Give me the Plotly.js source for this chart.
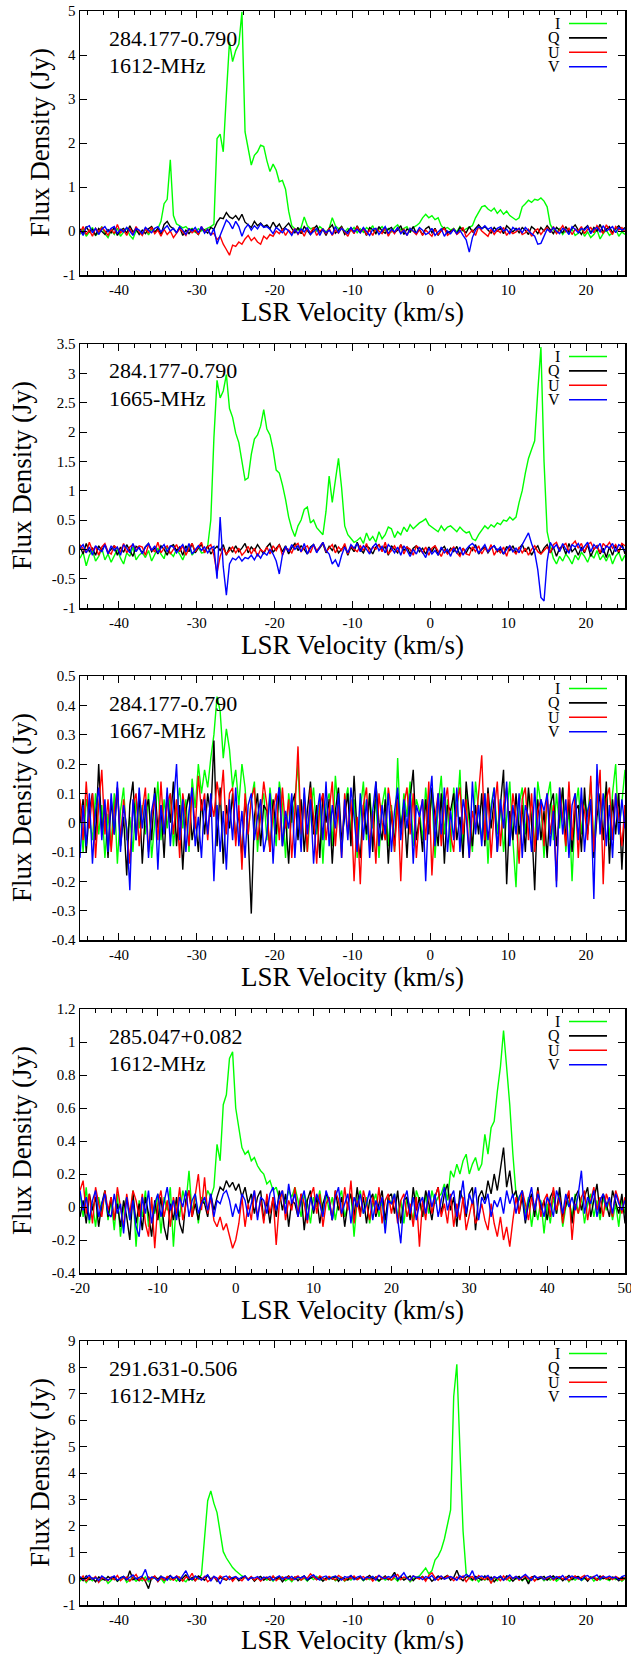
<!DOCTYPE html>
<html><head><meta charset="utf-8">
<script src="https://cdn.plot.ly/plotly-3.0.1.min.js"></script>
<style>html,body{margin:0;padding:0;background:#fff}#chart{width:631px;height:1654px}</style>
</head><body><div id="chart"></div>
<script>
// ---------------- DATA (Jy), channels spaced 0.4 km/s ----------------
// Panel 1: 284.177-0.790, 1612 MHz, velocities from -45 km/s
const P1_V0 = -45;
const I1 = [
-0.08,0.05,-0.12,-0.02,0.08,-0.1,-0.04,0.1,-0.06,-0.15,
0.02,-0.08,0.06,-0.12,-0.03,0.07,-0.1,-0.18,0.0,-0.05,
-0.06,0.04,-0.09,0.03,-0.02,0.05,0.22,0.62,0.72,1.62,
0.35,0.16,0.12,0.07,0.1,0.02,0.06,-0.03,0.05,0.0,
0.03,0.06,0.1,0.15,2.1,2.2,1.8,3.1,4.3,3.85,
4.1,4.25,4.98,2.25,1.85,1.5,1.72,1.8,1.95,1.92,
1.6,1.35,1.52,1.38,1.12,1.15,0.95,0.45,0.12,0.05,
0.02,0.08,0.32,0.12,0.05,0.08,0.0,0.1,0.04,-0.02,
0.06,0.3,0.12,0.05,0.1,-0.02,0.06,0.0,0.08,-0.04,
0.05,-0.03,0.08,0.02,0.12,-0.05,0.04,0.1,0.0,0.06,
-0.02,0.08,0.14,0.02,0.06,0.1,-0.04,0.08,0.12,0.18,
0.3,0.38,0.3,0.35,0.26,0.3,0.12,0.05,0.08,0.02,
0.06,-0.02,0.1,0.0,0.05,0.08,0.12,0.3,0.42,0.55,
0.58,0.5,0.45,0.52,0.4,0.48,0.38,0.45,0.35,0.3,
0.25,0.3,0.55,0.62,0.7,0.65,0.72,0.7,0.75,0.68,
0.55,0.15,0.02,-0.04,0.05,-0.08,0.02,-0.06,0.04,-0.1,
-0.05,0.06,-0.12,-0.02,-0.15,-0.08,0.03,-0.18,-0.06,0.02,
-0.1,-0.04,0.05,-0.12,-0.02,-0.08];
const Q1 = [
0.05,-0.06,0.1,-0.02,0.04,-0.1,0.06,0.0,-0.08,0.03,
-0.04,0.08,-0.1,0.02,0.06,-0.05,0.12,-0.02,0.04,-0.08,
0.02,-0.06,0.05,0.1,-0.03,0.06,-0.08,0.15,0.22,0.1,
0.05,-0.04,0.08,-0.1,0.02,-0.06,0.04,0.0,-0.08,0.06,
0.02,-0.05,0.08,0.04,0.2,0.3,0.28,0.42,0.32,0.28,
0.35,0.25,0.38,0.2,0.15,0.08,0.22,0.12,0.18,0.1,
0.14,0.05,0.2,0.08,0.16,0.02,0.1,0.18,0.06,-0.04,
0.08,-0.06,0.1,0.02,-0.08,0.05,0.12,-0.03,0.04,-0.1,
0.06,0.14,-0.05,0.02,0.1,-0.08,0.0,0.07,-0.04,0.12,
-0.02,0.06,-0.1,0.08,0.03,-0.06,0.1,0.0,-0.05,0.04,
0.08,-0.04,0.02,0.12,-0.08,0.05,-0.02,0.1,-0.06,0.03,
-0.08,0.05,0.1,-0.04,0.06,-0.1,0.02,0.08,-0.05,0.0,
0.04,-0.06,0.08,0.02,-0.04,0.1,-0.02,0.06,0.14,0.05,
0.1,0.02,-0.05,0.08,0.0,0.06,-0.06,0.12,0.04,-0.02,
0.06,-0.04,0.08,0.02,-0.08,0.1,0.04,-0.06,0.08,0.0,
0.12,0.04,-0.06,0.08,0.02,-0.04,0.1,-0.02,0.06,0.14,
0.02,-0.08,0.06,0.12,-0.04,0.08,0.0,0.15,-0.02,0.05,
0.1,-0.04,0.06,0.12,0.02,0.08];
const U1 = [
-0.05,0.1,-0.08,0.02,-0.12,0.06,-0.02,0.08,0.0,-0.1,
0.04,-0.06,0.15,-0.04,0.02,-0.1,0.06,-0.08,0.1,-0.02,
-0.1,0.05,-0.04,0.08,-0.06,0.02,-0.12,0.04,-0.08,0.0,
-0.15,-0.06,0.05,-0.02,-0.1,0.06,-0.04,0.02,-0.08,0.1,
-0.02,0.04,-0.08,-0.05,-0.2,-0.12,-0.3,-0.42,-0.55,-0.32,
-0.35,-0.25,-0.3,-0.18,-0.1,-0.22,-0.15,-0.25,-0.3,-0.12,
-0.18,-0.08,-0.12,0.0,-0.06,0.04,-0.1,0.02,-0.05,0.06,
-0.08,0.02,-0.12,0.05,-0.04,0.08,-0.1,0.0,0.04,-0.06,
0.06,-0.1,0.02,-0.05,0.08,-0.02,-0.12,0.04,-0.06,0.1,
-0.04,0.06,-0.08,0.02,-0.1,0.05,0.0,-0.06,0.08,-0.12,
0.02,-0.06,0.08,-0.04,0.04,-0.1,0.06,-0.02,-0.08,0.04,
-0.1,0.02,-0.06,-0.12,0.04,-0.08,0.0,0.06,-0.1,-0.04,
0.05,-0.08,-0.02,0.08,-0.14,-0.05,0.02,-0.1,0.1,0.0,
-0.06,-0.12,0.04,-0.08,0.02,-0.04,0.08,-0.1,0.0,-0.06,
-0.02,0.06,-0.08,-0.04,0.04,-0.12,0.0,0.05,-0.08,0.02,
0.08,-0.04,0.1,-0.06,0.02,0.12,-0.02,0.06,-0.08,0.04,
0.0,0.1,-0.06,0.04,0.08,-0.04,0.12,0.02,-0.06,0.14,
0.04,-0.08,0.1,0.02,0.08,-0.02];
const V1 = [
0.02,-0.1,0.08,0.12,-0.04,0.06,-0.08,0.04,0.1,-0.02,
0.06,0.1,-0.06,0.04,-0.02,0.08,0.0,-0.1,0.06,0.02,
-0.06,0.08,0.02,-0.04,0.06,0.1,-0.02,0.04,0.12,0.0,
0.06,-0.04,0.1,0.02,-0.08,0.05,0.0,0.08,-0.04,0.1,
-0.05,0.04,-0.1,0.06,-0.3,-0.1,0.08,0.25,0.18,0.05,
0.22,0.1,-0.12,0.06,0.15,0.02,0.12,0.05,0.16,0.08,
0.1,0.04,-0.06,0.08,0.02,-0.04,0.06,0.0,-0.1,0.04,
-0.06,0.05,-0.02,0.08,-0.08,0.0,0.06,-0.1,0.04,-0.04,
0.02,-0.08,0.1,-0.04,0.06,0.0,-0.06,0.08,-0.02,0.04,
-0.04,0.08,0.0,-0.1,0.04,0.06,-0.08,0.02,0.1,-0.06,
0.04,-0.02,0.08,-0.06,0.02,-0.1,0.06,0.0,-0.04,0.08,
0.02,-0.08,-0.04,0.06,-0.1,-0.02,0.05,-0.12,0.0,-0.06,
0.04,-0.06,0.02,-0.1,-0.2,-0.48,-0.15,0.02,0.1,0.05,
0.12,0.04,0.08,-0.02,0.06,0.1,0.0,0.04,-0.06,0.08,
0.02,0.06,-0.04,0.08,0.0,-0.06,-0.12,-0.3,-0.28,-0.1,
0.04,-0.02,0.08,0.0,-0.06,0.06,0.02,-0.08,0.1,0.04,
-0.04,0.06,0.02,0.1,-0.06,0.04,0.08,-0.02,0.12,0.0,
0.06,0.1,-0.04,0.08,0.02,0.05];

// Panel 2: 284.177-0.790, 1665 MHz, velocities from -45 km/s
const P2_V0 = -45;
const I2 = [
-0.15,-0.05,-0.28,-0.1,-0.02,-0.2,-0.12,0.02,-0.18,-0.08,
-0.22,-0.1,0.0,-0.15,-0.25,-0.06,-0.12,0.04,-0.18,-0.1,
-0.05,-0.14,-0.02,-0.2,-0.1,0.02,-0.08,-0.16,0.05,-0.06,
-0.12,0.0,-0.08,-0.18,-0.04,0.06,-0.1,-0.02,0.04,-0.06,
-0.05,0.05,0.5,1.9,2.88,2.58,2.7,2.98,2.4,2.25,
1.98,1.82,1.5,1.18,1.22,1.62,1.88,1.95,2.1,2.38,
2.05,1.95,1.7,1.35,1.3,1.1,0.85,0.55,0.35,0.22,
0.4,0.5,0.68,0.72,0.45,0.5,0.37,0.3,0.25,0.65,
1.25,0.8,1.2,1.55,1.05,0.4,0.25,0.18,0.12,0.15,
0.2,0.1,0.28,0.15,0.22,0.12,0.3,0.18,0.25,0.38,
0.35,0.2,0.3,0.25,0.38,0.3,0.42,0.35,0.4,0.45,
0.48,0.52,0.42,0.38,0.35,0.3,0.4,0.32,0.38,0.4,
0.35,0.3,0.38,0.32,0.28,0.3,0.18,0.15,0.25,0.32,
0.4,0.35,0.42,0.38,0.45,0.42,0.5,0.48,0.55,0.5,
0.55,0.8,1.0,1.3,1.55,1.7,1.85,2.7,3.45,1.5,
0.3,0.05,-0.15,-0.25,-0.12,-0.2,-0.08,-0.15,-0.25,-0.1,
-0.18,-0.05,-0.12,-0.22,-0.08,-0.15,-0.02,-0.18,-0.1,-0.2,
-0.08,-0.25,-0.12,-0.05,-0.2,-0.1];
const Q2 = [
0.05,-0.08,0.1,-0.04,0.02,-0.1,0.06,-0.02,0.08,-0.06,
0.0,0.06,-0.1,0.04,-0.05,0.08,-0.02,-0.12,0.05,0.02,
-0.06,0.04,0.1,-0.04,0.02,-0.08,0.06,0.0,-0.1,0.05,
0.08,-0.02,0.04,-0.1,0.06,-0.04,0.1,-0.06,0.02,0.08,
-0.04,0.06,-0.08,0.0,0.05,-0.02,0.08,-0.1,0.04,-0.05,
0.06,-0.04,0.02,0.1,-0.06,0.04,-0.02,0.08,0.0,-0.08,
0.04,0.1,-0.05,0.02,0.08,-0.04,0.06,-0.08,0.03,0.1,
-0.02,0.06,0.0,-0.08,0.04,0.08,-0.04,0.02,0.1,-0.06,
0.05,-0.02,0.08,-0.06,0.0,0.06,-0.1,0.04,-0.04,0.12,
0.0,-0.06,0.06,0.02,-0.08,0.04,0.08,-0.02,0.05,-0.1,
0.06,0.0,-0.06,0.08,-0.02,0.04,-0.08,0.02,0.06,-0.04,
0.02,-0.08,0.04,-0.04,0.06,-0.1,0.0,0.05,-0.06,0.02,
-0.04,0.05,-0.1,0.02,-0.06,0.04,-0.02,0.08,-0.08,0.0,
0.04,-0.06,0.02,0.06,-0.04,0.0,-0.08,0.05,-0.02,0.06,
-0.06,0.02,0.08,-0.04,0.04,-0.1,0.0,0.06,-0.08,0.02,
0.08,-0.06,0.04,-0.12,0.02,0.06,-0.08,0.1,-0.04,0.02,
-0.1,0.04,-0.06,0.08,-0.12,0.0,0.06,-0.08,0.02,-0.14,
0.04,-0.1,0.06,-0.06,0.1,-0.08];
const U2 = [
0.08,0.0,-0.06,0.12,-0.02,0.05,-0.1,0.04,0.1,-0.04,
-0.08,0.06,0.02,-0.04,0.1,-0.06,0.04,0.08,-0.02,0.06,
0.04,-0.1,0.08,0.0,-0.04,0.12,-0.06,0.02,0.06,-0.08,
0.0,0.08,-0.04,0.06,-0.1,0.02,0.1,-0.04,0.04,0.12,
-0.06,0.04,0.08,-0.1,-0.4,-0.12,0.02,-0.08,-0.02,0.04,
-0.06,0.02,-0.1,-0.04,0.05,-0.08,0.02,-0.12,0.0,-0.05,
0.04,-0.08,0.06,-0.02,0.08,-0.1,0.02,0.0,-0.06,0.06,
0.1,-0.04,0.02,0.06,-0.06,0.08,-0.02,0.04,0.12,-0.04,
0.02,0.08,-0.06,0.04,-0.02,0.1,-0.08,0.06,0.0,-0.04,
0.06,-0.02,0.1,-0.06,0.04,0.0,0.08,-0.04,0.12,-0.08,
-0.02,0.06,-0.04,0.08,-0.08,0.04,0.0,-0.1,0.06,0.02,
-0.06,0.04,-0.1,0.02,0.06,-0.04,-0.12,0.0,-0.08,-0.02,
0.04,-0.06,-0.12,0.02,-0.08,-0.1,0.04,-0.04,0.06,-0.08,
0.02,-0.04,0.08,-0.1,0.0,-0.06,0.04,-0.12,0.06,-0.02,
-0.08,0.04,-0.06,0.02,-0.1,0.0,0.06,-0.04,-0.08,-0.02,
0.04,-0.06,0.08,0.12,-0.02,0.06,0.1,-0.04,0.08,0.14,
0.02,0.1,-0.04,0.08,0.12,0.0,0.06,-0.06,0.1,0.04,
0.12,0.02,0.08,-0.04,0.1,0.06];
const V2 = [
0.02,0.08,-0.06,0.04,-0.1,0.06,0.0,-0.04,0.08,-0.08,
0.06,-0.02,0.04,-0.1,0.08,0.02,-0.06,0.1,-0.04,0.04,
-0.08,0.04,0.1,-0.02,0.06,-0.06,0.02,0.08,-0.04,0.06,
0.04,-0.06,0.02,0.08,-0.04,0.1,-0.08,0.0,0.06,-0.02,
0.04,-0.06,0.02,0.05,-0.5,0.55,-0.3,-0.78,-0.25,-0.15,
-0.18,-0.12,-0.2,-0.14,-0.16,-0.1,-0.18,-0.08,-0.15,-0.05,
-0.1,0.0,-0.08,-0.2,-0.42,-0.1,0.05,-0.04,0.08,0.0,
0.06,-0.04,0.1,-0.08,0.02,0.08,-0.06,0.04,0.12,-0.02,
-0.08,-0.25,-0.18,-0.3,-0.1,0.04,-0.06,0.08,0.02,0.1,
-0.04,0.06,0.0,-0.08,0.04,0.1,-0.02,0.05,-0.06,0.08,
0.02,-0.06,0.04,-0.1,0.06,-0.02,-0.12,0.0,-0.08,0.04,
-0.04,-0.14,0.02,-0.08,-0.02,-0.1,0.04,-0.06,0.0,-0.12,
0.02,-0.06,0.04,-0.1,0.0,0.06,0.1,0.04,-0.06,0.02,
0.08,-0.04,0.02,0.06,-0.02,0.04,-0.08,0.0,0.06,-0.04,
0.02,-0.06,0.08,0.18,0.28,0.1,-0.05,-0.35,-0.82,-0.88,
-0.2,0.12,0.02,0.08,-0.04,0.1,0.0,-0.06,0.08,0.04,
0.1,-0.02,0.06,0.12,-0.04,0.08,0.02,0.1,-0.06,0.06,
0.02,0.1,-0.04,0.08,0.04,-0.02];

// Panel 3: 284.177-0.790, 1667 MHz, velocities from -45 km/s
const P3_V0 = -45;
const I3 = [
0.05,-0.1,0.08,0.02,-0.06,0.1,-0.04,0.06,-0.12,0.03,
-0.08,0.1,-0.14,0.04,0.12,-0.06,0.02,-0.1,0.08,-0.02,
0.06,-0.04,0.1,-0.12,0.0,0.14,-0.06,0.08,-0.02,0.1,
-0.08,0.04,0.12,-0.02,0.08,-0.1,0.15,0.05,0.2,0.1,
0.18,0.12,0.22,0.3,0.43,0.38,0.22,0.32,0.25,0.12,
0.18,0.06,0.2,0.12,-0.04,0.08,0.14,-0.1,0.05,0.1,
-0.06,0.12,0.02,-0.08,0.14,0.06,-0.12,0.1,0.0,0.08,
0.2,-0.06,0.1,-0.1,0.04,0.12,-0.04,0.08,-0.14,0.06,
0.1,-0.08,0.16,0.02,-0.1,0.06,0.12,-0.04,0.08,-0.12,
0.04,0.14,-0.06,0.1,-0.02,0.08,-0.12,0.06,0.12,-0.08,
0.06,-0.1,0.22,-0.04,0.1,0.02,0.14,-0.08,0.08,0.04,
-0.06,0.12,0.0,0.1,-0.12,0.06,0.16,-0.04,0.08,-0.1,
0.12,0.02,0.18,-0.08,0.1,0.0,-0.1,0.14,0.04,-0.06,
0.1,-0.14,0.06,0.12,-0.04,0.08,-0.1,0.02,0.14,-0.06,
-0.22,0.06,0.12,-0.04,0.1,0.02,-0.08,0.14,0.06,-0.12,
0.08,0.14,-0.06,0.1,-0.02,0.12,-0.1,0.06,-0.2,0.04,
0.12,-0.04,0.08,0.02,0.14,-0.08,0.1,-0.02,0.06,0.12,
-0.06,0.1,0.2,-0.04,0.08,0.18];
const Q3 = [
0.0,0.08,-0.1,0.04,0.1,-0.06,0.2,-0.04,0.06,-0.12,
0.08,-0.04,0.12,-0.08,0.02,-0.18,0.06,0.14,-0.06,0.1,
-0.14,0.04,0.08,-0.06,0.12,-0.02,0.06,-0.12,0.1,0.0,
0.14,-0.08,0.06,-0.16,0.04,0.1,-0.06,0.02,-0.1,0.08,
-0.04,0.1,0.02,0.28,-0.08,0.12,-0.14,0.06,-0.02,0.1,
-0.06,0.04,-0.12,0.08,-0.04,-0.31,0.02,0.1,-0.08,0.06,
0.04,-0.1,0.08,-0.04,0.12,-0.08,0.02,-0.14,0.06,0.1,
-0.06,0.08,-0.1,0.04,0.14,-0.04,0.06,-0.12,0.1,0.0,
0.08,-0.14,0.04,0.12,-0.06,0.02,0.1,-0.08,0.16,-0.04,
-0.12,0.06,-0.04,0.1,-0.1,0.14,0.0,-0.06,0.08,-0.14,
0.04,-0.08,0.1,-0.02,0.06,-0.12,0.08,0.18,-0.06,0.02,
-0.1,0.08,-0.04,0.12,0.02,-0.08,0.1,-0.14,0.06,0.04,
0.1,-0.06,0.02,-0.12,0.14,0.04,-0.08,0.06,-0.04,0.1,
-0.08,0.12,-0.02,0.08,-0.1,0.06,0.18,-0.21,0.04,-0.06,
0.1,-0.04,0.06,-0.1,0.12,0.0,-0.23,0.08,-0.06,0.04,
-0.12,0.06,0.1,-0.08,0.02,0.12,-0.06,0.08,-0.1,0.04,
0.06,-0.1,0.12,-0.04,0.08,-0.12,0.02,0.1,-0.06,0.14,
-0.14,0.08,-0.04,0.1,-0.16,0.06];
const U3 = [
0.08,-0.06,0.14,-0.02,0.1,-0.12,0.06,0.18,-0.04,0.08,
-0.1,0.04,0.12,-0.06,0.08,-0.02,-0.14,0.06,0.1,-0.08,
0.04,0.12,-0.1,0.02,0.08,-0.06,0.14,-0.04,0.06,0.1,
-0.04,0.08,-0.12,0.1,0.02,-0.08,0.12,-0.02,0.16,0.04,
0.1,-0.06,0.08,0.02,0.14,0.06,0.18,-0.04,0.1,0.12,
-0.08,0.06,-0.16,0.1,-0.04,0.08,0.12,-0.06,0.02,0.14,
0.06,-0.1,0.04,0.1,-0.06,0.12,-0.02,0.08,-0.12,0.04,
0.26,-0.04,0.08,-0.1,0.12,0.02,-0.14,0.06,0.1,-0.06,
0.04,0.14,-0.08,0.06,-0.12,0.1,-0.04,0.08,-0.2,0.02,
-0.21,0.06,0.12,-0.08,0.04,-0.14,0.1,0.0,-0.06,0.12,
0.04,-0.1,0.08,-0.2,0.06,0.12,-0.04,0.1,-0.12,0.02,
0.08,-0.06,0.14,-0.18,0.02,0.1,-0.08,0.06,0.12,-0.04,
-0.1,0.06,0.12,-0.04,0.08,-0.12,0.04,-0.02,0.1,0.23,
-0.06,0.1,-0.12,0.04,0.14,-0.08,0.06,0.12,-0.04,0.1,
0.02,-0.14,0.08,0.12,-0.06,0.1,-0.1,0.04,0.08,-0.08,
0.1,-0.04,0.06,-0.2,0.12,0.02,-0.08,0.14,-0.06,0.1,
-0.12,0.08,0.04,-0.06,0.16,-0.1,0.06,0.18,-0.21,0.08,
0.12,-0.06,0.1,0.02,-0.08,0.06];
const V3 = [
-0.12,0.06,-0.08,0.1,-0.14,0.04,0.12,-0.06,0.08,-0.1,
0.1,-0.04,0.14,-0.1,0.06,-0.02,-0.23,0.08,-0.06,0.12,
-0.02,0.08,-0.12,0.04,0.1,-0.16,0.06,-0.04,0.12,-0.08,
0.06,0.2,-0.06,0.08,-0.1,0.04,0.12,-0.08,0.02,-0.12,
0.08,-0.04,0.1,-0.2,0.06,-0.1,0.04,-0.16,0.08,-0.06,
0.12,-0.08,0.04,-0.12,0.06,0.1,-0.06,0.02,0.08,-0.1,
-0.04,0.1,-0.14,0.06,0.12,-0.08,0.04,-0.02,0.1,-0.12,
0.06,-0.1,0.12,-0.04,0.08,-0.14,0.02,0.1,-0.06,0.14,
-0.08,0.06,-0.02,0.1,-0.12,0.08,-0.06,0.12,0.02,-0.1,
0.1,-0.06,0.08,-0.12,0.04,0.14,-0.08,0.06,-0.04,0.1,
-0.1,0.04,0.12,-0.06,0.08,-0.02,0.1,-0.14,0.06,0.02,
0.08,-0.2,0.06,0.16,-0.08,0.1,-0.04,0.12,-0.1,0.04,
-0.06,0.12,-0.1,0.08,0.02,-0.12,0.14,-0.04,0.06,-0.08,
0.1,-0.06,0.04,0.12,-0.1,0.08,-0.02,0.14,-0.08,0.06,
-0.04,0.1,-0.12,0.06,0.02,-0.1,0.12,-0.06,0.08,0.04,
0.1,-0.08,0.04,-0.22,0.12,-0.04,0.08,-0.12,0.06,0.1,
-0.06,0.12,-0.1,0.04,0.08,-0.26,0.2,-0.04,0.1,-0.08,
0.06,-0.12,0.1,-0.04,0.08,-0.02];

// Panel 4: 285.047+0.082, 1612 MHz, velocities from -20 km/s
const P4_V0 = -20;
const I4 = [
0.08,-0.06,0.12,-0.1,0.02,-0.12,0.06,-0.04,0.1,-0.08,
0.04,-0.14,0.08,-0.18,0.0,0.06,-0.08,0.1,-0.24,0.04,
-0.06,0.1,-0.12,0.02,-0.04,0.08,-0.16,0.06,-0.02,0.12,
-0.24,0.04,-0.06,0.1,0.02,0.22,-0.04,0.08,-0.1,0.06,
0.02,0.1,0.06,0.12,0.38,0.28,0.62,0.68,0.9,0.94,
0.6,0.47,0.36,0.32,0.34,0.28,0.3,0.25,0.22,0.2,
0.14,0.16,0.1,0.12,0.05,0.08,0.02,0.1,0.06,0.12,
0.04,-0.06,0.08,0.02,-0.1,0.06,0.0,0.1,-0.04,0.08,
-0.02,0.06,-0.08,0.04,0.1,-0.06,0.02,0.08,-0.18,0.04,
0.1,-0.04,0.06,-0.1,0.02,0.08,-0.06,0.04,-0.12,0.06,
0.02,0.08,-0.06,0.04,-0.1,0.06,0.0,-0.08,0.1,0.04,
-0.06,0.08,-0.04,0.1,0.02,0.06,0.08,0.14,0.04,0.22,
0.18,0.26,0.2,0.28,0.32,0.2,0.26,0.3,0.22,0.26,
0.44,0.32,0.48,0.52,0.7,0.85,1.07,0.84,0.62,0.32,
0.08,0.04,0.1,-0.04,0.06,-0.12,0.02,-0.08,0.04,-0.16,
0.02,-0.1,0.06,-0.04,0.08,-0.12,0.0,0.04,-0.06,0.08,
-0.04,0.06,-0.1,0.02,0.08,-0.06,0.04,-0.08,0.06,-0.02,
0.04,-0.08,0.02,-0.12,0.06,-0.04];
const Q4 = [
-0.06,0.04,-0.1,0.08,-0.02,0.06,-0.12,0.02,0.1,-0.06,
0.06,-0.08,0.02,-0.12,0.04,-0.06,-0.2,0.08,-0.1,0.02,
-0.14,0.06,-0.04,-0.18,0.04,-0.08,0.06,-0.12,-0.2,0.02,
-0.08,0.06,-0.1,-0.16,0.04,0.1,-0.06,0.02,-0.08,0.04,
0.02,-0.06,0.08,-0.02,0.06,0.12,0.1,0.16,0.12,0.15,
0.1,0.14,0.06,0.12,0.02,0.08,-0.04,0.06,0.1,-0.08,
0.04,-0.1,0.06,-0.06,0.1,-0.02,0.08,-0.12,0.04,0.02,
-0.06,0.08,-0.14,0.04,0.1,-0.04,0.06,-0.1,0.02,0.08,
0.04,-0.08,0.1,-0.02,0.06,-0.12,0.02,0.08,-0.06,0.12,
-0.04,0.06,-0.1,0.04,0.08,-0.06,0.02,0.1,-0.08,0.06,
0.08,-0.04,0.1,-0.1,0.04,0.06,-0.08,0.12,-0.02,0.06,
-0.06,0.1,0.02,-0.08,0.06,0.12,-0.04,0.08,0.14,-0.02,
0.06,-0.12,0.1,0.04,-0.06,0.08,0.12,-0.14,0.06,0.1,
0.04,0.16,0.08,0.2,0.1,0.24,0.36,0.12,0.22,0.06,
0.1,-0.04,0.06,-0.1,0.02,0.08,-0.06,0.12,-0.02,0.04,
-0.08,0.06,0.1,-0.04,0.12,-0.06,0.02,0.08,-0.1,0.06,
0.1,-0.02,0.06,0.12,-0.06,0.04,0.14,-0.04,0.08,0.02,
-0.06,0.1,0.02,-0.04,0.08,-0.1];
const U4 = [
0.1,0.16,-0.04,0.08,-0.1,0.12,0.02,-0.06,0.1,-0.02,
0.06,-0.08,0.12,0.0,-0.12,0.08,-0.04,0.1,0.04,-0.06,
0.08,-0.1,-0.18,0.06,-0.25,0.02,0.1,-0.06,0.04,-0.12,
0.06,-0.04,0.12,-0.08,0.02,0.1,-0.06,0.08,0.2,-0.02,
0.18,-0.04,0.06,-0.08,-0.12,-0.06,-0.14,-0.1,-0.18,-0.25,
-0.2,-0.1,0.06,-0.12,0.02,-0.08,0.1,-0.06,0.04,-0.1,
0.08,-0.04,0.06,-0.23,0.02,0.1,-0.08,0.04,-0.02,0.12,
-0.06,0.08,0.02,-0.1,0.06,0.12,-0.04,0.08,-0.12,0.02,
0.06,-0.08,0.1,0.04,-0.06,0.12,-0.02,0.16,-0.1,0.04,
-0.06,0.1,0.02,-0.08,0.06,-0.04,0.12,-0.1,0.04,0.08,
-0.04,0.06,-0.1,0.04,0.08,-0.06,0.02,-0.12,0.06,-0.24,
0.04,-0.08,0.1,-0.04,0.06,0.12,-0.06,0.02,-0.1,0.08,
-0.12,0.02,-0.08,0.06,-0.14,-0.04,0.04,-0.1,-0.06,0.02,
-0.08,-0.14,0.02,-0.1,-0.18,-0.06,-0.2,-0.12,-0.24,-0.08,
0.06,-0.04,0.1,0.02,-0.08,0.06,-0.02,0.1,-0.06,0.04,
0.08,-0.06,0.12,-0.02,0.06,-0.1,0.04,0.1,-0.2,0.02,
-0.04,0.06,0.1,-0.08,0.04,0.12,-0.02,0.06,-0.06,0.08,
0.02,-0.06,0.1,0.04,-0.04,0.06];
const V4 = [
0.1,-0.02,0.06,-0.08,0.04,0.1,-0.06,0.02,0.08,-0.04,
-0.06,0.08,-0.04,0.02,-0.16,0.06,-0.08,0.04,-0.12,-0.18,
0.06,-0.04,0.1,-0.1,0.02,0.08,-0.06,0.04,0.12,-0.02,
0.04,-0.08,0.06,0.0,0.1,-0.06,0.04,0.08,-0.04,0.02,
0.06,-0.02,0.08,-0.06,0.04,0.02,0.08,0.1,0.04,-0.06,
0.02,-0.04,0.08,0.04,-0.06,0.02,0.1,-0.08,0.06,0.04,
-0.04,0.08,0.12,-0.02,0.06,0.1,-0.04,0.14,0.02,0.08,
-0.06,0.04,0.1,-0.08,0.06,-0.02,0.08,0.02,-0.06,0.1,
0.04,-0.08,0.06,0.12,-0.04,0.02,0.08,-0.1,0.06,0.0,
0.08,-0.04,0.02,0.1,-0.08,0.04,-0.02,0.06,-0.16,0.04,
0.02,0.08,-0.06,-0.22,0.04,0.1,-0.04,0.06,-0.08,0.02,
0.06,-0.04,0.1,0.0,0.08,-0.06,0.04,0.12,-0.02,0.06,
0.1,-0.06,0.04,0.16,-0.04,0.08,0.02,0.12,-0.08,0.06,
0.02,0.08,-0.06,0.04,0.0,0.06,-0.04,0.1,0.02,0.08,
-0.04,0.06,0.1,-0.08,0.04,0.12,-0.02,0.08,0.02,-0.06,
0.06,0.02,-0.06,0.1,0.04,-0.04,0.08,0.0,0.06,-0.02,
0.08,0.22,-0.04,0.06,0.02,0.1,-0.06,0.04,0.08,0.0,
0.06,-0.04,0.08,0.02,-0.02,0.04];

// Panel 5: 291.631-0.506, 1612 MHz, velocities from -45 km/s
const P5_V0 = -45;
const I5 = [
-0.1,0.05,-0.15,0.0,-0.08,0.06,-0.12,-0.04,0.02,-0.18,
-0.06,0.04,-0.1,-0.02,0.08,-0.14,-0.04,0.02,-0.1,0.0,
-0.08,0.06,-0.12,-0.02,0.04,-0.1,0.0,-0.16,0.05,-0.06,
0.02,-0.1,0.06,-0.04,-0.12,0.04,-0.06,0.08,-0.02,0.15,
1.55,2.95,3.32,2.85,2.5,1.75,1.02,0.78,0.6,0.42,
0.3,0.18,0.1,0.05,-0.02,0.06,-0.08,0.02,-0.04,0.04,
-0.06,0.02,-0.1,0.04,-0.02,0.06,-0.08,0.0,-0.12,0.03,
0.04,-0.06,0.02,-0.1,0.05,-0.04,0.08,-0.02,-0.08,0.02,
-0.04,0.06,-0.08,0.0,0.04,-0.1,0.02,-0.06,0.05,-0.02,
0.04,-0.08,0.02,-0.04,0.06,-0.02,-0.1,0.04,-0.06,0.02,
-0.06,0.02,-0.1,0.04,-0.04,0.06,-0.12,0.0,0.05,0.1,
0.25,0.4,0.18,0.3,0.7,0.85,1.1,1.5,2.05,2.6,
6.9,8.12,4.9,1.8,0.2,0.0,-0.08,0.04,-0.12,0.02,
-0.06,0.04,-0.14,0.02,-0.08,0.06,-0.04,0.0,-0.1,0.04,
-0.02,0.06,-0.08,0.02,-0.12,0.04,-0.06,0.0,0.05,-0.08,
0.02,-0.06,0.04,-0.1,0.0,-0.04,0.06,-0.12,0.02,-0.06,
0.04,-0.08,0.0,-0.04,0.06,-0.1,0.02,-0.06,0.04,-0.02,
-0.08,0.04,-0.04,0.02,-0.1,0.0];
const Q5 = [
0.05,-0.08,0.1,-0.04,0.02,-0.12,0.06,0.0,-0.06,0.08,
-0.02,0.06,-0.1,0.04,0.08,-0.06,0.3,-0.04,0.02,-0.08,
0.06,-0.1,-0.38,0.04,0.08,-0.02,0.1,-0.06,0.02,0.12,
-0.04,0.06,-0.1,0.02,0.14,-0.06,0.04,-0.08,0.1,0.02,
-0.06,0.12,-0.02,0.08,-0.1,0.04,0.0,-0.06,0.08,-0.02,
0.06,-0.08,0.02,0.1,-0.04,0.06,-0.1,0.02,0.08,-0.06,
0.04,-0.06,0.08,-0.02,0.06,-0.12,0.02,0.1,-0.04,0.06,
-0.08,0.04,0.1,-0.06,0.02,0.08,-0.04,0.06,-0.1,0.02,
0.06,-0.02,0.08,-0.1,0.04,0.0,-0.06,0.1,0.02,-0.04,
0.08,-0.06,0.04,0.12,-0.02,0.06,-0.08,0.02,0.1,-0.04,
0.06,0.24,-0.04,0.08,-0.06,0.02,0.1,-0.08,0.04,0.0,
0.08,-0.04,0.06,-0.1,0.02,0.1,-0.02,0.06,0.12,-0.06,
0.04,0.32,0.02,-0.08,0.06,0.1,-0.04,0.08,0.02,-0.06,
0.1,-0.04,0.06,-0.12,0.02,0.08,-0.06,0.1,0.04,-0.1,
0.02,0.08,-0.06,0.04,-0.2,0.06,0.1,-0.04,0.02,0.08,
-0.06,0.04,0.1,-0.02,0.06,-0.08,0.02,0.12,-0.04,0.06,
0.08,-0.02,0.04,-0.1,0.06,0.02,-0.06,0.1,0.0,0.04,
-0.04,0.06,0.02,-0.08,0.04,0.0];
const U5 = [
-0.04,0.1,-0.1,0.06,-0.02,0.08,-0.14,0.04,0.0,-0.08,
0.06,-0.04,0.12,-0.08,0.02,0.06,-0.1,0.04,0.16,-0.06,
0.02,-0.08,0.06,-0.02,0.1,-0.12,0.04,-0.06,0.08,0.0,
-0.06,0.1,0.04,-0.1,0.06,0.02,0.2,-0.08,0.04,-0.04,
0.08,-0.12,-0.02,0.06,-0.06,0.1,0.02,-0.04,0.08,-0.1,
0.04,0.0,-0.08,0.06,-0.02,0.08,-0.06,0.04,-0.1,0.02,
0.06,-0.04,0.1,-0.08,0.02,0.06,-0.02,0.08,-0.06,0.04,
0.1,-0.06,0.04,0.02,0.18,0.06,-0.04,0.1,0.02,-0.06,
0.08,0.02,-0.06,0.12,0.04,-0.08,0.06,0.0,0.1,-0.04,
0.02,0.08,-0.04,0.06,-0.1,0.04,0.12,-0.02,0.06,0.0,
-0.06,0.08,0.16,-0.04,0.06,0.02,-0.08,0.1,0.04,-0.02,
0.06,-0.1,0.12,0.22,0.04,-0.06,0.08,-0.02,0.1,0.04,
-0.08,0.06,-0.02,0.1,-0.12,0.04,0.08,-0.06,0.12,0.02,
-0.04,0.08,-0.18,0.06,0.02,-0.08,0.1,-0.04,0.06,0.0,
0.08,-0.06,0.04,0.1,-0.02,0.06,-0.1,0.04,0.08,-0.04,
0.02,0.1,-0.06,0.04,0.08,-0.02,0.06,-0.08,0.04,0.1,
-0.02,0.06,0.12,-0.04,0.02,0.08,-0.06,0.04,0.1,-0.02,
0.06,-0.04,0.08,0.02,-0.06,0.04];
const V5 = [
0.08,-0.04,0.06,0.12,-0.02,0.04,-0.08,0.1,0.02,-0.06,
0.04,0.1,-0.06,0.02,0.08,-0.04,0.06,0.14,-0.02,0.04,
0.1,0.35,-0.04,0.06,0.02,-0.08,0.08,0.04,-0.06,0.1,
0.02,0.08,-0.06,0.12,0.3,0.04,-0.04,0.1,0.02,-0.06,
0.06,0.14,-0.1,0.08,0.02,-0.2,0.06,0.1,-0.04,0.04,
0.08,-0.02,0.06,0.1,-0.06,0.04,0.02,0.08,-0.04,0.06,
0.02,0.08,-0.06,0.04,0.1,-0.02,0.06,0.0,0.08,-0.04,
0.06,0.02,0.1,-0.04,0.08,0.14,0.02,-0.06,0.06,0.1,
-0.02,0.06,0.1,0.02,-0.06,0.08,0.04,0.12,-0.04,0.06,
0.1,-0.04,0.06,0.02,0.08,-0.06,0.12,0.04,0.0,0.08,
0.04,0.14,-0.02,0.08,0.22,0.02,-0.06,0.1,0.04,0.06,
-0.04,0.08,0.02,0.12,-0.06,0.06,0.1,-0.02,0.04,0.08,
0.02,-0.06,0.1,0.04,0.16,0.08,0.3,-0.02,0.06,0.1,
0.04,0.12,-0.04,0.08,0.02,0.1,-0.06,0.06,0.14,0.0,
0.08,-0.02,0.06,0.16,0.04,-0.06,0.1,0.02,0.08,-0.04,
0.06,0.1,-0.02,0.08,0.02,0.12,-0.04,0.06,0.1,0.02,
0.04,-0.06,0.08,0.12,0.0,0.06,0.14,-0.02,0.08,0.04,
0.1,0.02,0.06,-0.04,0.08,0.12];

const CHANNEL_WIDTH = 0.4; // km/s
const SOURCES = ['284.177-0.790','284.177-0.790','284.177-0.790','285.047+0.082','291.631-0.506'];
const BANDS = ['1612-MHz','1665-MHz','1667-MHz','1612-MHz','1612-MHz'];
const STOKES = ['I','Q','U','V'];
const X_TITLE = 'LSR Velocity (km/s)';
const Y_TITLE = 'Flux Density (Jy)';
const X_RANGES = [[-45,25],[-45,25],[-45,25],[-20,50],[-45,25]];
const Y_RANGES = [[-1,5],[-1,3.5],[-0.4,0.5],[-0.4,1.2],[-1,9]];
const X_TICKS = [[-40,-30,-20,-10,0,10,20],[-40,-30,-20,-10,0,10,20],[-40,-30,-20,-10,0,10,20],
                 [-20,-10,0,10,20,30,40,50],[-40,-30,-20,-10,0,10,20]];
const Y_TICKS = [[-1,0,1,2,3,4,5],
                 [-1,-0.5,0,0.5,1,1.5,2,2.5,3,3.5],
                 [-0.4,-0.3,-0.2,-0.1,0,0.1,0.2,0.3,0.4,0.5],
                 [-0.4,-0.2,0,0.2,0.4,0.6,0.8,1,1.2],
                 [-1,0,1,2,3,4,5,6,7,8,9]];
const V0S = [P1_V0,P2_V0,P3_V0,P4_V0,P5_V0];
const SERIES = [[I1,Q1,U1,V1],[I2,Q2,U2,V2],[I3,Q3,U3,V3],[I4,Q4,U4,V4],[I5,Q5,U5,V5]];

// ---------------- STYLE / LAYOUT ----------------
const W = 631, H = 1654;
const COLORS = ['#00ff00','#000000','#ff0000','#0000ff'];
const FONT = '"Liberation Serif", "Times New Roman", "DejaVu Serif", serif';
const PLOT_L = 80, PLOT_R = 625;
const PANEL_TOP = [11, 344, 676, 1009, 1341];
const PANEL_H = 264;
const YTITLE_X = [40, 22, 22, 22, 40];
const XTITLE_GAP = [37, 37, 37, 37, 35];

const traces = [], annotations = [], shapes = [];
const layout = {
  width: W, height: H, margin: {l:0, r:0, t:0, b:0},
  paper_bgcolor: '#fff', plot_bgcolor: '#fff', showlegend: false,
  font: {family: FONT, color: '#000', size: 15},
  annotations, shapes
};
const px = x => x / W, py = y => 1 - y / H;

for (let p = 0; p < 5; p++) {
  const k = p + 1, sfx = (k === 1 ? '' : String(k));
  const xs = 'x' + sfx, ys = 'y' + sfx;
  const top = PANEL_TOP[p], bot = top + PANEL_H;
  layout['xaxis' + sfx] = {
    domain: [px(PLOT_L), px(PLOT_R)], anchor: ys, range: X_RANGES[p],
    showline: true, linecolor: '#000', linewidth: 1.5, mirror: 'allticks',
    ticks: 'inside', ticklen: 7, tickwidth: 1, tickcolor: '#000',
    tickmode: 'array', tickvals: X_TICKS[p], ticktext: X_TICKS[p].map(String),
    ticklabeloverflow: 'allow',
    minor: {tickmode: 'linear', tick0: 0, dtick: 2, ticks: 'inside', ticklen: 4, tickcolor: '#000', tickwidth: 1},
    showgrid: false, zeroline: false, tickfont: {family: FONT, size: 15}
  };
  layout['yaxis' + sfx] = {
    domain: [py(bot), py(top)], anchor: xs, range: Y_RANGES[p],
    showline: true, linecolor: '#000', linewidth: 1.5, mirror: 'allticks',
    ticks: 'inside', ticklen: 7, tickwidth: 1, tickcolor: '#000',
    tickmode: 'array', tickvals: Y_TICKS[p], ticktext: Y_TICKS[p].map(String),
    ticklabeloverflow: 'allow',
    showgrid: false, zeroline: false, tickfont: {family: FONT, size: 15}
  };
  const vel = SERIES[p][0].map((_, i) => +(V0S[p] + i * CHANNEL_WIDTH).toFixed(2));
  SERIES[p].forEach((vals, s) => {
    traces.push({type: 'scatter', mode: 'lines', x: vel, y: vals, xaxis: xs, yaxis: ys,
      name: STOKES[s], line: {color: COLORS[s], width: 1.4}, hoverinfo: 'skip'});
  });
  // axis titles
  annotations.push({xref: 'paper', yref: 'paper', x: px((PLOT_L + PLOT_R) / 2), y: py(bot + XTITLE_GAP[p]),
    xanchor: 'center', yanchor: 'middle', showarrow: false, text: X_TITLE, font: {family: FONT, size: 27}});
  annotations.push({xref: 'paper', yref: 'paper', x: px(YTITLE_X[p]), y: py((top + bot) / 2),
    xanchor: 'center', yanchor: 'middle', textangle: -90, showarrow: false, text: Y_TITLE, font: {family: FONT, size: 27}});
  // source / band labels
  annotations.push({xref: 'paper', yref: 'paper', x: px(107), y: py(top + 27),
    xanchor: 'left', yanchor: 'middle', showarrow: false, text: SOURCES[p], font: {family: FONT, size: 22}});
  annotations.push({xref: 'paper', yref: 'paper', x: px(107), y: py(top + 54),
    xanchor: 'left', yanchor: 'middle', showarrow: false, text: BANDS[p], font: {family: FONT, size: 22}});
  // gnuplot-style key: label then line sample
  STOKES.forEach((name, s) => {
    const yy = py(top + 12.5 + 14.4 * s);
    annotations.push({xref: 'paper', yref: 'paper', x: px(561), y: yy, xanchor: 'right', yanchor: 'middle',
      showarrow: false, borderpad: 0, text: name, font: {family: FONT, size: 16}});
    shapes.push({type: 'line', xref: 'paper', yref: 'paper', x0: px(569), x1: px(607), y0: yy, y1: yy,
      line: {color: COLORS[s], width: 1.6}});
  });
}

Plotly.newPlot('chart', traces, layout, {staticPlot: true, displayModeBar: false});
</script></body></html>
